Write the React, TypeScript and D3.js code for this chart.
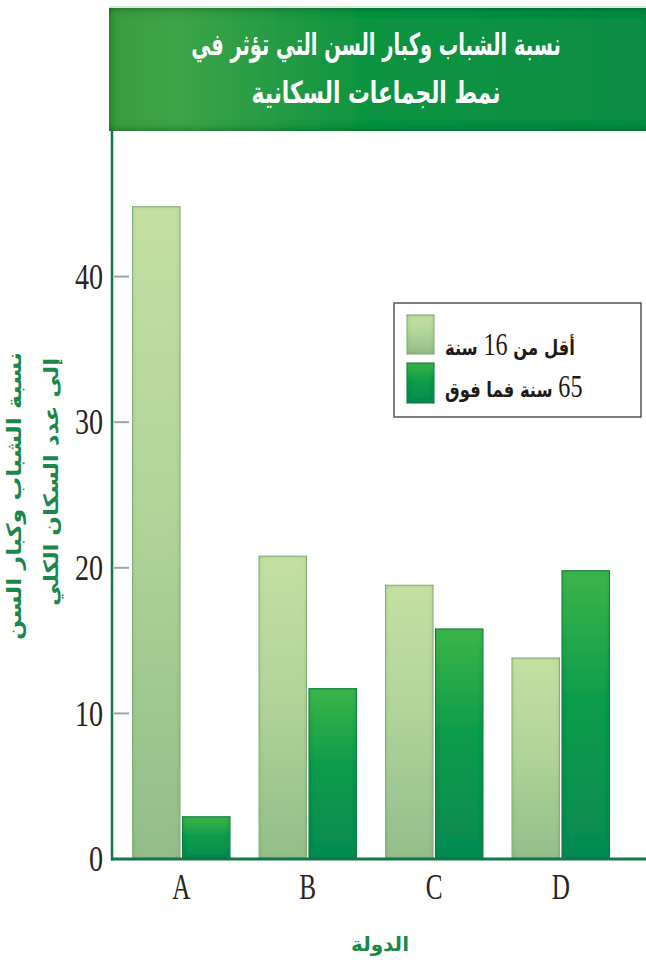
import React from "react";
import * as d3 from "d3";

const categories = ["A", "B", "C", "D"];
const seriesNames = ["under16", "over65"];
const under16 = [44.8, 20.8, 18.8, 13.8];
const over65 = [2.9, 11.7, 15.8, 19.8];
const yTicks = [0, 10, 20, 30, 40];
const titleLines = ["نسبة الشباب وكبار السن التي تؤثر في", "نمط الجماعات السكانية"];
const yTitleLines = ["نسبة الشباب وكبار السن", "إلى عدد السكان الكلي"];
const xTitle = "الدولة";

const W = 646;
const H = 963;
const AXIS_X = 112;
const BASE_Y = 859;
const TOP_Y = 131;

export default function App() {
  const y = d3.scaleLinear().domain([0, 50]).range([BASE_Y, TOP_Y]);
  const x0 = d3
    .scaleBand<string>()
    .domain(categories)
    .range([118, 624])
    .paddingInner(0.23)
    .paddingOuter(0.115);
  const x1 = d3
    .scaleBand<string>()
    .domain(seriesNames)
    .range([0, x0.bandwidth()])
    .paddingInner(0.05);
  const values: Record<string, number[]> = { under16, over65 };
  const fills: Record<string, string> = { under16: "url(#gLight)", over65: "url(#gDark)" };
  const strokes: Record<string, string> = { under16: "#8fbd84", over65: "#0f8544" };

  const serif = "'Liberation Serif', 'Times New Roman', serif";
  const arab = "'DejaVu Sans', sans-serif";
  const titleScales = [0.67, 0.75];
  const yTitleLens = [288, 248];

  return (
    <svg width={W} height={H} style={{ position: "absolute", left: 0, top: 0, background: "#fff" }}>
      <defs>
        <linearGradient id="gLight" x1="0" y1="0" x2="0" y2="1">
          <stop offset="0%" stopColor="#c4e0a2" />
          <stop offset="45%" stopColor="#b2d59a" />
          <stop offset="100%" stopColor="#93bd89" />
        </linearGradient>
        <linearGradient id="gDark" x1="0" y1="0" x2="0" y2="1">
          <stop offset="0%" stopColor="#3cb54a" />
          <stop offset="45%" stopColor="#0e9c4b" />
          <stop offset="100%" stopColor="#058a52" />
        </linearGradient>
        <linearGradient id="gTitle" x1="0" y1="0" x2="1" y2="0">
          <stop offset="0%" stopColor="#3a9c40" />
          <stop offset="12%" stopColor="#3ea447" />
          <stop offset="45%" stopColor="#119441" />
          <stop offset="100%" stopColor="#078c44" />
        </linearGradient>
        <filter id="inset" x="-20%" y="-20%" width="140%" height="140%">
          <feFlood floodColor="#1f5a2a" floodOpacity="0.45" />
          <feComposite in2="SourceAlpha" operator="out" />
          <feGaussianBlur stdDeviation="2" />
          <feComposite in2="SourceAlpha" operator="in" result="sh" />
          <feMerge>
            <feMergeNode in="SourceGraphic" />
            <feMergeNode in="sh" />
          </feMerge>
        </filter>
        <filter id="insetTitle" x="-10%" y="-20%" width="120%" height="140%">
          <feFlood floodColor="#063d18" floodOpacity="0.85" />
          <feComposite in2="SourceAlpha" operator="out" />
          <feGaussianBlur stdDeviation="5" />
          <feComposite in2="SourceAlpha" operator="in" result="sh" />
          <feMerge>
            <feMergeNode in="SourceGraphic" />
            <feMergeNode in="sh" />
          </feMerge>
        </filter>
      </defs>

      {/* title box */}
      <line x1={109} x2={W} y1={7} y2={7} stroke="#cfe3d2" strokeWidth={1.5} />
      <rect x={109} y={8} width={W - 109 + 10} height={TOP_Y - 8} fill="url(#gTitle)" filter="url(#insetTitle)" />
      {titleLines.map((t, i) => (
        <g key={i} transform={`translate(376,${55 + i * 48}) scale(${titleScales[i]},1.05)`}>
          <text
            x={0}
            y={0}
            textAnchor="middle"
            direction="rtl"
            fill="#ffffff"
            fontFamily={arab}
            fontWeight="bold"
            fontSize={29}
          >
            {t}
          </text>
        </g>
      ))}

      {/* bars */}
      {categories.map((c, ci) => (
        <g key={c} transform={`translate(${x0(c)},0)`}>
          {seriesNames.map((s) => {
            const v = values[s][ci];
            return (
              <rect
                key={s}
                x={x1(s)}
                y={y(v)}
                width={x1.bandwidth()}
                height={y(0) - y(v)}
                fill={fills[s]}
                stroke={strokes[s]}
                strokeWidth={1}
                filter="url(#inset)"
              />
            );
          })}
        </g>
      ))}

      {/* axes */}
      <line x1={AXIS_X} x2={AXIS_X} y1={TOP_Y} y2={BASE_Y + 1.5} stroke="#17754a" strokeWidth={2.5} />
      <line x1={AXIS_X - 1} x2={W} y1={BASE_Y} y2={BASE_Y} stroke="#17754a" strokeWidth={3} />

      {yTicks.map((t) => (
        <g key={t}>
          {t > 0 && (
            <line x1={AXIS_X + 2} x2={AXIS_X + 17} y1={y(t)} y2={y(t)} stroke="#a3a3a3" strokeWidth={2} />
          )}
          <g transform={`translate(103,${y(t)}) scale(0.78,1)`}>
            <text
              x={0}
              y={0}
              dy="0.34em"
              textAnchor="end"
              fill="#2a2320"
              fontFamily={serif}
              fontSize={36}
            >
              {t}
            </text>
          </g>
        </g>
      ))}

      {categories.map((c) => (
        <g key={c} transform={`translate(${(x0(c) as number) + x0.bandwidth() / 2},887) scale(0.7,1)`}>
          <text x={0} y={0} dy="0.34em" textAnchor="middle" fill="#2a2320" fontFamily={serif} fontSize={36}>
            {c}
          </text>
        </g>
      ))}

      {/* x title */}
      <text x={380} y={951} textAnchor="middle" direction="rtl" fill="#1b874a" fontFamily={arab} fontWeight="bold" fontSize={20}>
        {xTitle}
      </text>

      {/* y title */}
      {yTitleLines.map((t, i) => (
        <text
          key={i}
          transform={`translate(${21 + i * 37},${352 + i * 6}) rotate(-90)`}
          x={0}
          y={0}
          textAnchor="start"
          direction="rtl"
          fill="#1b874a"
          fontFamily={arab}
          fontWeight="bold"
          fontSize={20}
          textLength={yTitleLens[i]}
          lengthAdjust="spacingAndGlyphs"
        >
          {t}
        </text>
      ))}

      {/* legend */}
      <rect x={394} y={303} width={247} height={114} fill="#fff" stroke="#555" strokeWidth={1.5} />
      <rect x={407} y={315} width={27} height={39} fill="url(#gLight)" stroke="#8fbd84" filter="url(#inset)" />
      <rect x={407} y={363} width={27} height={40} fill="url(#gDark)" stroke="#0f8544" filter="url(#inset)" />
      <g transform="translate(445,0) scale(0.78,1)">
        <text x={0} y={355} textAnchor="end" direction="rtl" fill="#1e1a18">
          <tspan fontFamily={arab} fontWeight="bold" fontSize={21}>أقل من </tspan>
          <tspan fontFamily={serif} fontSize={31}>16</tspan>
          <tspan fontFamily={arab} fontWeight="bold" fontSize={21}> سنة</tspan>
        </text>
        <text x={0} y={397} textAnchor="end" direction="rtl" fill="#1e1a18">
          <tspan fontFamily={serif} fontSize={31}>65</tspan>
          <tspan fontFamily={arab} fontWeight="bold" fontSize={21}> سنة فما فوق</tspan>
        </text>
      </g>
    </svg>
  );
}
